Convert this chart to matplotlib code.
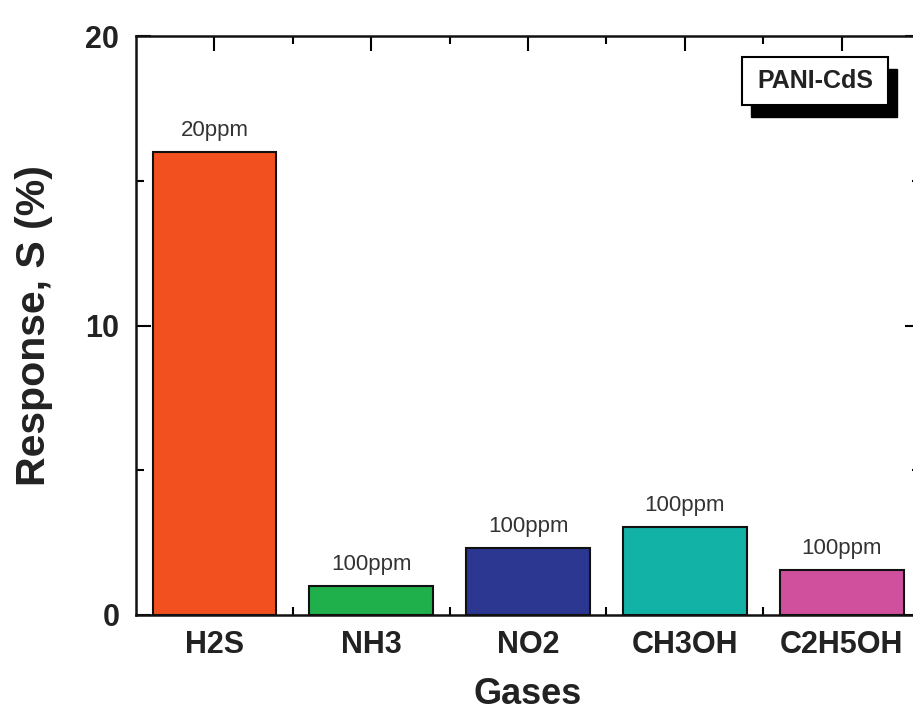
import matplotlib.pyplot as plt
from matplotlib.patches import Rectangle
from matplotlib.ticker import MultipleLocator, FixedLocator

plt.rcParams['font.family'] = ['Liberation Sans', 'DejaVu Sans']

gases = ['H2S', 'NH3', 'NO2', 'CH3OH', 'C2H5OH']
response = [16.0, 1.0, 2.3, 3.05, 1.55]
conc = ['20ppm', '100ppm', '100ppm', '100ppm', '100ppm']
colors = ['#F2501F', '#1FAF4B', '#2B3791', '#13B2A6', '#D0509E']

fig = plt.figure(figsize=(9.13, 7.18), dpi=100)
ax = fig.add_axes([0.149, 0.1435, 0.8587, 0.806])

x = list(range(len(gases)))
ax.bar(x, response, width=0.79, color=colors, edgecolor='#111111', linewidth=1.5, zorder=2)
for xi, v, c in zip(x, response, conc):
    ax.text(xi, v + 0.38, c, ha='center', va='bottom', fontsize=16, color='#333333')

ax.set_xlim(-0.5, len(gases) - 0.5)
ax.set_ylim(0, 20)
ax.set_xticks(x)
ax.set_xticklabels(gases, fontsize=22, fontweight='bold', color='#222222')
ax.xaxis.set_minor_locator(FixedLocator([i + 0.5 for i in x[:-1]]))
ax.yaxis.set_major_locator(MultipleLocator(10))
ax.yaxis.set_minor_locator(MultipleLocator(5))
for lab in ax.get_yticklabels():
    lab.set_fontsize(22)
    lab.set_fontweight('bold')
    lab.set_color('#222222')

ax.tick_params(which='both', direction='in', top=True, right=True, width=1.5)
ax.tick_params(which='major', length=11)
ax.tick_params(axis='x', which='major', pad=11)
ax.tick_params(axis='y', which='major', pad=12)
ax.tick_params(which='minor', length=6)
for s in ax.spines.values():
    s.set_linewidth(1.8)
    s.set_color('#111111')

ax.set_xlabel('Gases', fontsize=26, fontweight='bold', color='#222222', labelpad=12)
ax.set_ylabel('Response, S (%)', fontsize=29.5, fontweight='bold', color='#222222', labelpad=23)

# label box with drop shadow
bx, by, bw, bh = 0.773, 0.881, 0.186, 0.083
ax.add_patch(Rectangle((bx + 0.011, by - 0.02), bw, bh, transform=ax.transAxes,
                       facecolor='black', edgecolor='black', zorder=4, clip_on=False))
ax.add_patch(Rectangle((bx, by), bw, bh, transform=ax.transAxes,
                       facecolor='white', edgecolor='black', linewidth=1.5, zorder=5, clip_on=False))
ax.text(bx + bw / 2, by + bh / 2, 'PANI-CdS', transform=ax.transAxes, ha='center', va='center',
        fontsize=18, fontweight='bold', color='#222222', zorder=6)

fig.savefig('out.png', dpi=100)
